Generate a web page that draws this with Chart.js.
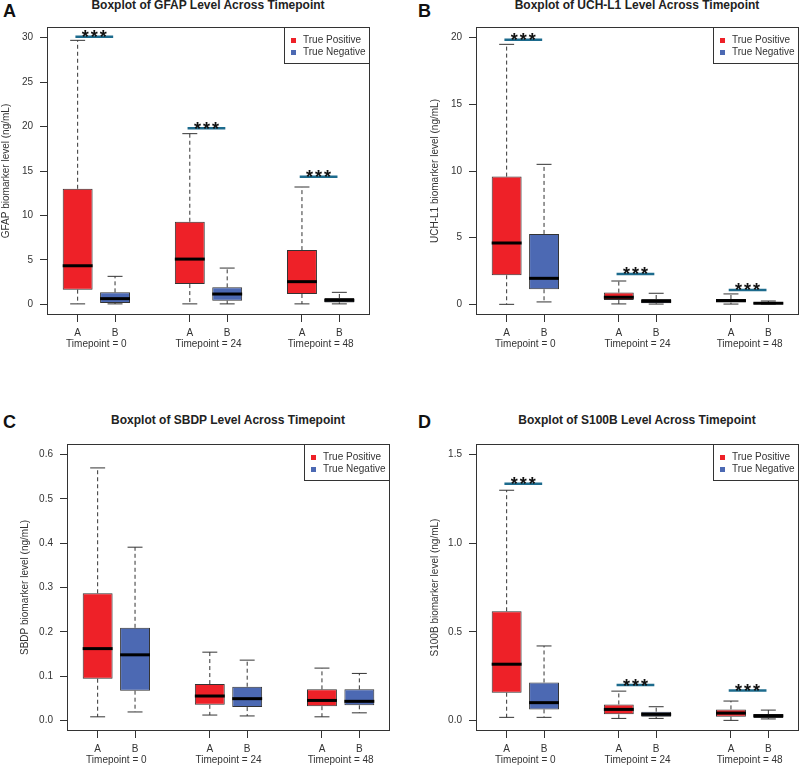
<!DOCTYPE html>
<html>
<head>
<meta charset="utf-8">
<script src="https://cdn.jsdelivr.net/npm/chart.js@4"></script>
<style>
  body { margin: 0; background: #fff; width: 800px; height: 766px; position: relative; overflow: hidden; font-family: "Liberation Sans", Arial, sans-serif; }
  canvas { position: absolute; }
  .letter { position: absolute; font-size: 18px; font-weight: bold; line-height: 18px; color: #111; }
  .title { position: absolute; width: 400px; text-align: center; font-size: 12px; font-weight: bold; line-height: 12px; color: #222; }
</style>
</head>
<body>
<div class="letter" style="left:3px;top:2px">A</div>
<div class="letter" style="left:418px;top:2px">B</div>
<div class="letter" style="left:3px;top:413px">C</div>
<div class="letter" style="left:418px;top:413px">D</div>
<div class="title" style="left:8px;top:-1px">Boxplot of GFAP Level Across Timepoint</div>
<div class="title" style="left:437px;top:-1px">Boxplot of UCH-L1 Level Across Timepoint</div>
<div class="title" style="left:28px;top:414px">Boxplot of SBDP Level Across Timepoint</div>
<div class="title" style="left:437px;top:414px">Boxplot of S100B Level Across Timepoint</div>

<canvas id="chartA" width="400" height="383" style="left:0;top:0"></canvas>
<canvas id="chartB" width="400" height="383" style="left:400px;top:0"></canvas>
<canvas id="chartC" width="400" height="383" style="left:0;top:383px"></canvas>
<canvas id="chartD" width="400" height="383" style="left:400px;top:383px"></canvas>

<script>
// group positions on the x axis (A = True Positive, B = True Negative)
const tpX = [1, 4, 7];
const tnX = [2, 5, 8];
const groupX = [1.5, 4.5, 7.5];
const groupLabels = ['Timepoint = 0', 'Timepoint = 24', 'Timepoint = 48'];

// GFAP
const gfapTpMin = [0.05, 0.05, 0.05];
const gfapTpQ1 = [1.65, 2.28, 1.16];
const gfapTpMed = [4.34, 5.09, 2.55];
const gfapTpQ3 = [13.0, 9.29, 6.1];
const gfapTpMax = [29.7, 19.2, 13.2];
const gfapTnMin = [0.05, 0.05, 0.05];
const gfapTnQ1 = [0.15, 0.41, 0.22];
const gfapTnMed = [0.64, 1.16, 0.45];
const gfapTnQ3 = [1.35, 1.91, 0.71];
const gfapTnMax = [3.15, 4.08, 1.35];
const gfapSig = [30.1, 19.8, 14.35];
const gfapTicks = [0, 5, 10, 15, 20, 25, 30];
const gfapTickLabels = ['0', '5', '10', '15', '20', '25', '30'];

// UCH-L1
const uchTpMin = [0.0, 0.03, 0.02];
const uchTpQ1 = [2.18, 0.33, 0.13];
const uchTpMed = [4.6, 0.53, 0.28];
const uchTpQ3 = [9.58, 0.88, 0.4];
const uchTpMax = [19.5, 1.75, 0.78];
const uchTnMin = [0.18, 0.02, 0.02];
const uchTnQ1 = [1.13, 0.08, 0.03];
const uchTnMed = [1.95, 0.23, 0.08];
const uchTnQ3 = [5.28, 0.4, 0.15];
const uchTnMax = [10.5, 0.83, 0.25];
const uchSig = [19.85, 2.28, 1.08];
const uchTicks = [0, 5, 10, 15, 20];
const uchTickLabels = ['0', '5', '10', '15', '20'];

// SBDP
const sbdpTpMin = [0.008, 0.012, 0.008];
const sbdpTpQ1 = [0.094, 0.035, 0.032];
const sbdpTpMed = [0.162, 0.055, 0.045];
const sbdpTpQ3 = [0.287, 0.082, 0.070];
const sbdpTpMax = [0.570, 0.154, 0.118];
const sbdpTnMin = [0.019, 0.010, 0.017];
const sbdpTnQ1 = [0.067, 0.030, 0.034];
const sbdpTnMed = [0.148, 0.049, 0.043];
const sbdpTnQ3 = [0.209, 0.076, 0.070];
const sbdpTnMax = [0.391, 0.136, 0.106];
const sbdpSig = [];
const sbdpTicks = [0, 0.1, 0.2, 0.3, 0.4, 0.5, 0.6];
const sbdpTickLabels = ['0.0', '0.1', '0.2', '0.3', '0.4', '0.5', '0.6'];

// S100B
const s100TpMin = [0.017, 0.011, 0.0];
const s100TpQ1 = [0.156, 0.034, 0.021];
const s100TpMed = [0.317, 0.062, 0.041];
const s100TpQ3 = [0.616, 0.09, 0.062];
const s100TpMax = [1.299, 0.165, 0.109];
const s100TnMin = [0.017, 0.011, 0.008];
const s100TnQ1 = [0.062, 0.021, 0.013];
const s100TnMed = [0.1, 0.034, 0.026];
const s100TnQ3 = [0.214, 0.049, 0.036];
const s100TnMax = [0.42, 0.077, 0.058];
const s100Sig = [1.335, 0.199, 0.169];
const s100Ticks = [0, 0.5, 1.0, 1.5];
const s100TickLabels = ['0.0', '0.5', '1.0', '1.5'];

const RED = '#ee2128';
const BLUE = '#4c69b3';
const INK = '#333333';
const FONT = '"Liberation Sans", Arial, sans-serif';

// whiskers, caps and medians for every box
const boxExtras = {
  id: 'boxExtras',
  afterDatasetsDraw(chart) {
    const { ctx, scales: { x, y } } = chart;
    ctx.save();
    chart.data.datasets.forEach((ds, di) => {
      const meta = chart.getDatasetMeta(di);
      ds.data.forEach((d, i) => {
        const px = x.getPixelForValue(d.x);
        const cap = x.getPixelForValue(d.x + 0.2) - px;
        const bar = meta.data[i];
        const half = bar.width / 2;
        ctx.strokeStyle = INK;
        ctx.lineWidth = 1;
        ctx.setLineDash([4, 3]);
        ctx.beginPath();
        ctx.moveTo(px, y.getPixelForValue(d.y[1]));
        ctx.lineTo(px, y.getPixelForValue(d.max));
        ctx.moveTo(px, y.getPixelForValue(d.y[0]));
        ctx.lineTo(px, y.getPixelForValue(d.min));
        ctx.stroke();
        ctx.setLineDash([]);
        ctx.beginPath();
        ctx.moveTo(px - cap, y.getPixelForValue(d.max));
        ctx.lineTo(px + cap, y.getPixelForValue(d.max));
        ctx.moveTo(px - cap, y.getPixelForValue(d.min));
        ctx.lineTo(px + cap, y.getPixelForValue(d.min));
        ctx.stroke();
        ctx.strokeStyle = '#000';
        ctx.lineWidth = 3;
        ctx.beginPath();
        ctx.moveTo(px - half, y.getPixelForValue(d.med));
        ctx.lineTo(px + half, y.getPixelForValue(d.med));
        ctx.stroke();
      });
    });
    ctx.restore();
  }
};

// frame, significance bars, group labels, legend
const decorations = {
  id: 'decorations',
  afterDraw(chart) {
    const { ctx, chartArea: a, scales: { x, y } } = chart;
    const sig = chart.options.plugins.decorations.sig;
    ctx.save();
    ctx.strokeStyle = INK;
    ctx.lineWidth = 1;
    ctx.strokeRect(a.left + 0.5, a.top + 0.5, a.right - a.left - 1, a.bottom - a.top - 1);

    sig.forEach((v, i) => {
      const yy = y.getPixelForValue(v);
      const x1 = x.getPixelForValue(tpX[i] - 0.06);
      const x2 = x.getPixelForValue(tnX[i] - 0.05);
      ctx.strokeStyle = '#1d6b8d';
      ctx.lineWidth = 2.5;
      ctx.beginPath();
      ctx.moveTo(x1, yy);
      ctx.lineTo(x2, yy);
      ctx.stroke();
      ctx.fillStyle = '#111';
      ctx.font = 'bold 18px ' + FONT;
      ctx.letterSpacing = '2px';
      ctx.textAlign = 'center';
      ctx.textBaseline = 'alphabetic';
      ctx.fillText('***', (x1 + x2) / 2 + 1, yy + 6.5);
      ctx.letterSpacing = '0px';
    });

    ctx.fillStyle = INK;
    ctx.font = '10px ' + FONT;
    ctx.textAlign = 'center';
    ctx.textBaseline = 'middle';
    groupX.forEach((g, i) => {
      ctx.fillText(groupLabels[i], x.getPixelForValue(g), a.bottom + 29.5);
    });

    const lw = 86, lh = 36;
    const lx = a.right - lw, ly = a.top;
    ctx.fillStyle = '#fff';
    ctx.fillRect(lx, ly, lw, lh);
    ctx.strokeStyle = INK;
    ctx.lineWidth = 1;
    ctx.strokeRect(lx + 0.5, ly + 0.5, lw - 1, lh);
    chart.data.datasets.forEach((ds, i) => {
      const cy = ly + 13.5 + i * 12;
      ctx.fillStyle = ds.backgroundColor;
      ctx.fillRect(lx + 7, cy - 2.5, 5, 5);
      ctx.fillStyle = INK;
      ctx.textAlign = 'left';
      ctx.textBaseline = 'middle';
      ctx.fillText(ds.label, lx + 19, cy);
    });
    ctx.restore();
  }
};

const boxes = (xs, mn, q1, md, q3, mx) =>
  xs.map((v, i) => ({ x: v, y: [q1[i], q3[i]], min: mn[i], med: md[i], max: mx[i] }));

const makePanel = (id, p) => {
  const span = p.ylim[1] - p.ylim[0];
  const config = {
    type: 'bar',
    data: {
      datasets: [
        { label: 'True Positive', data: p.tp, backgroundColor: RED, borderColor: INK, borderWidth: 1, borderSkipped: false },
        { label: 'True Negative', data: p.tn, backgroundColor: BLUE, borderColor: INK, borderWidth: 1, borderSkipped: false }
      ]
    },
    options: {
      responsive: false,
      animation: false,
      grouped: false,
      barPercentage: 0.8,
      categoryPercentage: 1,
      layout: { padding: { left: p.padLeft, right: p.padRight, top: p.top, bottom: 0 } },
      plugins: {
        legend: { display: false },
        tooltip: { enabled: false },
        decorations: { sig: p.sig }
      },
      scales: {
        x: {
          type: 'linear',
          offset: false,
          min: 0.18,
          max: 8.82,
          afterBuildTicks: (s) => { s.ticks = [...tpX, ...tnX].sort((a, b) => a - b).map(v => ({ value: v })); },
          afterFit: (s) => { s.height = 383 - p.bottom; },
          ticks: {
            autoSkip: false,
            maxRotation: 0,
            padding: 5,
            color: INK,
            font: { family: FONT, size: 10 },
            callback: (v) => (tpX.includes(v) ? 'A' : 'B')
          },
          grid: { offset: false, drawOnChartArea: false, drawTicks: true, tickLength: 7, color: INK },
          border: { display: false }
        },
        y: {
          min: p.ylim[0] - 0.04 * span,
          max: p.ylim[1] + 0.04 * span,
          afterBuildTicks: (s) => { s.ticks = p.ticks.map(v => ({ value: v })); },
          afterFit: (s) => { s.width = p.axisWidth; },
          ticks: {
            padding: 7,
            color: INK,
            font: { family: FONT, size: 10 },
            callback: (v, i) => p.tickLabels[i]
          },
          grid: { drawOnChartArea: false, drawTicks: true, tickLength: 7, color: INK },
          border: { display: false },
          title: { display: true, text: p.yTitle, color: INK, font: { family: FONT, size: 10 }, padding: 0 }
        }
      }
    },
    plugins: [boxExtras, decorations]
  };
  return new Chart(document.getElementById(id), config);
};

makePanel('chartA', {
  tp: boxes(tpX, gfapTpMin, gfapTpQ1, gfapTpMed, gfapTpQ3, gfapTpMax),
  tn: boxes(tnX, gfapTnMin, gfapTnQ1, gfapTnMed, gfapTnQ3, gfapTnMax),
  sig: gfapSig, ticks: gfapTicks, tickLabels: gfapTickLabels, ylim: [0, 30],
  yTitle: 'GFAP biomarker level (ng/mL)',
  padLeft: 0, axisWidth: 47, padRight: 30, top: 27, bottom: 315
});

makePanel('chartB', {
  tp: boxes(tpX, uchTpMin, uchTpQ1, uchTpMed, uchTpQ3, uchTpMax),
  tn: boxes(tnX, uchTnMin, uchTnQ1, uchTnMed, uchTnQ3, uchTnMax),
  sig: uchSig, ticks: uchTicks, tickLabels: uchTickLabels, ylim: [0, 20],
  yTitle: 'UCH-L1 biomarker level (ng/mL)',
  padLeft: 29, axisWidth: 47, padRight: 1, top: 27, bottom: 315
});

makePanel('chartC', {
  tp: boxes(tpX, sbdpTpMin, sbdpTpQ1, sbdpTpMed, sbdpTpQ3, sbdpTpMax),
  tn: boxes(tnX, sbdpTnMin, sbdpTnQ1, sbdpTnMed, sbdpTnQ3, sbdpTnMax),
  sig: sbdpSig, ticks: sbdpTicks, tickLabels: sbdpTickLabels, ylim: [0, 0.6],
  yTitle: 'SBDP biomarker level (ng/mL)',
  padLeft: 19, axisWidth: 48, padRight: 10, top: 61, bottom: 348
});

makePanel('chartD', {
  tp: boxes(tpX, s100TpMin, s100TpQ1, s100TpMed, s100TpQ3, s100TpMax),
  tn: boxes(tnX, s100TnMin, s100TnQ1, s100TnMed, s100TnQ3, s100TnMax),
  sig: s100Sig, ticks: s100Ticks, tickLabels: s100TickLabels, ylim: [0, 1.5],
  yTitle: 'S100B biomarker level (ng/mL)',
  padLeft: 29, axisWidth: 47, padRight: 1, top: 61, bottom: 348
});
</script>
</body>
</html>
